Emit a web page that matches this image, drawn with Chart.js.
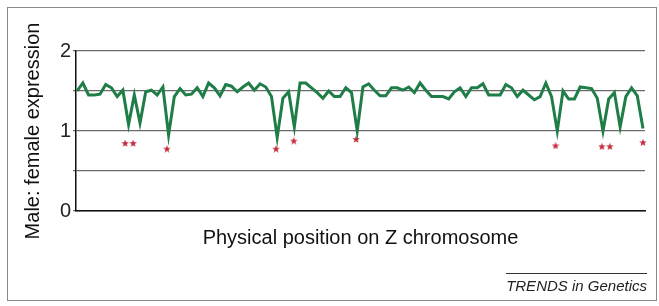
<!DOCTYPE html>
<html>
<head>
<meta charset="utf-8">
<script src="https://cdn.jsdelivr.net/npm/chart.js@4.4.1/dist/chart.umd.min.js"></script>
<style>
  html, body { margin: 0; padding: 0; background: #fff; }
  #wrap { position: relative; width: 659px; height: 306px; }
  #frame { position: absolute; left: 7px; top: 7px; width: 650px; height: 294px; border: 1px solid #8a8a8a; box-sizing: border-box; }
  #chart { position: absolute; left: 0; top: 0; }
  #source { position: absolute; right: 12px; top: 273px; font: italic 15px 'Liberation Sans', Arial, sans-serif; color: #222; border-top: 1px solid #333; padding-top: 3px; line-height: 17px; }
</style>
</head>
<body>
<div id="wrap">
  <div id="frame"></div>
  <canvas id="chart" width="659" height="306"></canvas>
  <div id="source">TRENDS in Genetics</div>
</div>
<script>
// male:female expression ratio along the Z chromosome (one value per window)
const expression = [
  1.50, 1.60, 1.45, 1.45, 1.46, 1.58, 1.54, 1.43, 1.51, 1.08,
  1.45, 1.10, 1.49, 1.51, 1.45, 1.55, 0.95, 1.43, 1.53, 1.45,
  1.46, 1.54, 1.43, 1.60, 1.54, 1.44, 1.58, 1.56, 1.49, 1.55,
  1.60, 1.51, 1.59, 1.55, 1.43, 0.92, 1.41, 1.49, 1.05, 1.60,
  1.60, 1.54, 1.48, 1.41, 1.50, 1.43, 1.43, 1.54, 1.48, 1.00,
  1.55, 1.59, 1.51, 1.44, 1.44, 1.54, 1.54, 1.51, 1.55, 1.48,
  1.60, 1.51, 1.43, 1.43, 1.43, 1.40, 1.49, 1.54, 1.43, 1.54,
  1.54, 1.59, 1.45, 1.45, 1.45, 1.58, 1.54, 1.43, 1.51, 1.45,
  1.39, 1.43, 1.60, 1.43, 1.00, 1.50, 1.40, 1.40, 1.55, 1.54,
  1.53, 1.41, 1.00, 1.40, 1.48, 1.05, 1.43, 1.54, 1.44, 1.03
];
// significance asterisks under the dips
const starPosition = [8.4, 9.8, 15.7, 34.8, 37.9, 48.8, 83.7, 91.8, 93.2, 99];
const starLevel = [0.85, 0.85, 0.78, 0.78, 0.88, 0.90, 0.82, 0.81, 0.81, 0.86];
const yLabels = [0, 1, 2];

function starImage(size, color) {
  const c = document.createElement('canvas');
  c.width = c.height = size;
  const g = c.getContext('2d');
  g.fillStyle = color;
  g.beginPath();
  for (let i = 0; i < 10; i++) {
    const r = i % 2 ? size * 0.21 : size / 2;
    const a = -Math.PI / 2 + i * Math.PI / 5;
    g.lineTo(size / 2 + r * Math.cos(a), size / 2 + 0.5 + r * Math.sin(a));
  }
  g.closePath();
  g.fill();
  return c;
}

const font = "'Liberation Sans', Arial, sans-serif";

new Chart(document.getElementById('chart'), {
  type: 'line',
  data: {
    datasets: [
      {
        data: expression.map((v, i) => ({ x: i, y: v })),
        borderColor: '#1f7d47',
        borderWidth: 3,
        pointRadius: 0,
        tension: 0,
        fill: false,
      },
      {
        type: 'scatter',
        data: starPosition.map((p, i) => ({ x: p, y: starLevel[i] })),
        pointStyle: starImage(8, '#c42a3c'),
        clip: false,
      }
    ]
  },
  options: {
    responsive: false,
    animation: false,
    layout: { padding: { top: 51, right: 14, left: 0, bottom: 0 } },
    plugins: {
      legend: { display: false },
      tooltip: { enabled: false },
    },
    scales: {
      x: {
        type: 'linear',
        min: -0.2,
        max: 99.35,
        afterFit: (s) => { s.height = 95; },
        ticks: { display: false },
        grid: { display: false },
        border: { display: true, color: '#111', width: 1.5 },
        title: {
          display: true,
          text: 'Physical position on Z chromosome',
          color: '#111',
          font: { family: font, size: 20 },
          padding: { top: 0, bottom: 56 },
        },
      },
      y: {
        min: 0,
        max: 2,
        afterFit: (s) => { s.width = 76; },
        ticks: {
          stepSize: 0.5,
          color: '#222',
          padding: 2,
          font: { family: font, size: 20 },
          callback: (v) => (yLabels.includes(v) ? String(v) : ''),
        },
        grid: { color: '#6b6b6b', lineWidth: 1.2, tickLength: 3 },
        border: { display: true, color: '#111', width: 1.5 },
        title: {
          display: true,
          text: 'Male: female expression',
          color: '#111',
          font: { family: font, size: 20 },
          padding: { top: 21, bottom: 0 },
        },
      },
    },
  },
});
</script>
</body>
</html>
